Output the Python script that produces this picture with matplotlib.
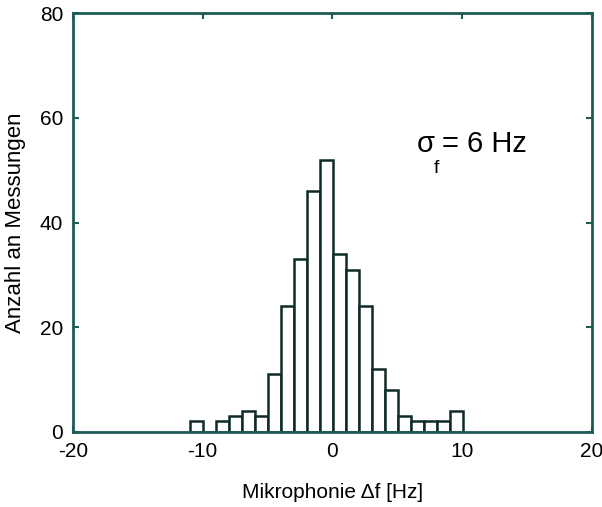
import matplotlib
matplotlib.use("Agg")
import matplotlib.pyplot as plt

# Histogramm-Daten
bin_mitten = [-10.45, -9.45, -8.45, -7.45, -6.45, -5.45, -4.45, -3.45, -2.45,
              -1.45, -0.45, 0.55, 1.55, 2.55, 3.55, 4.55, 5.55, 6.55, 7.55,
              8.55, 9.55]
anzahl = [2, 0, 2, 3, 4, 3, 11, 24, 33, 46, 52, 34, 31, 24, 12, 8, 3, 2, 2, 2, 4]

x_ticks = [-20, -10, 0, 10, 20]
x_tick_labels = ["-20", "-10", "0", "10", "20"]
y_ticks = [0, 20, 40, 60, 80]

plt.rcParams['font.family'] = ['Liberation Sans', 'DejaVu Sans']

fig = plt.figure(figsize=(6.02, 5.07), dpi=100)
ax = fig.add_axes([0.121, 0.148, 0.862, 0.826])

ax.bar(bin_mitten, anzahl, width=1.0, color='white', edgecolor='#0e2b28',
       linewidth=1.8, zorder=2)

ax.set_xlim(-20, 20)
ax.set_ylim(0, 80)
ax.set_xticks(x_ticks)
ax.set_xticklabels(x_tick_labels)
ax.set_yticks(y_ticks)
ax.tick_params(direction='in', top=True, right=True, length=4, width=1.5,
               color='#1d5c57', labelsize=15)
ax.tick_params(axis='x', pad=7)
ax.tick_params(axis='y', pad=7)
for s in ax.spines.values():
    s.set_color('#1d5c57')
    s.set_linewidth(2)
    s.set_zorder(3)

ax.set_xlabel("Mikrophonie \u0394f [Hz]", fontsize=15, labelpad=16)
ax.set_ylabel("Anzahl an Messungen", fontsize=16, labelpad=10)

ax.text(0.663, 0.668, "\u03c3", transform=ax.transAxes, fontsize=21,
        ha='left', va='baseline')
ax.text(0.696, 0.618, "f", transform=ax.transAxes, fontsize=14,
        ha='left', va='baseline')
ax.text(0.712, 0.668, "= 6 Hz", transform=ax.transAxes, fontsize=21,
        ha='left', va='baseline')

fig.savefig("out.png", dpi=100)
